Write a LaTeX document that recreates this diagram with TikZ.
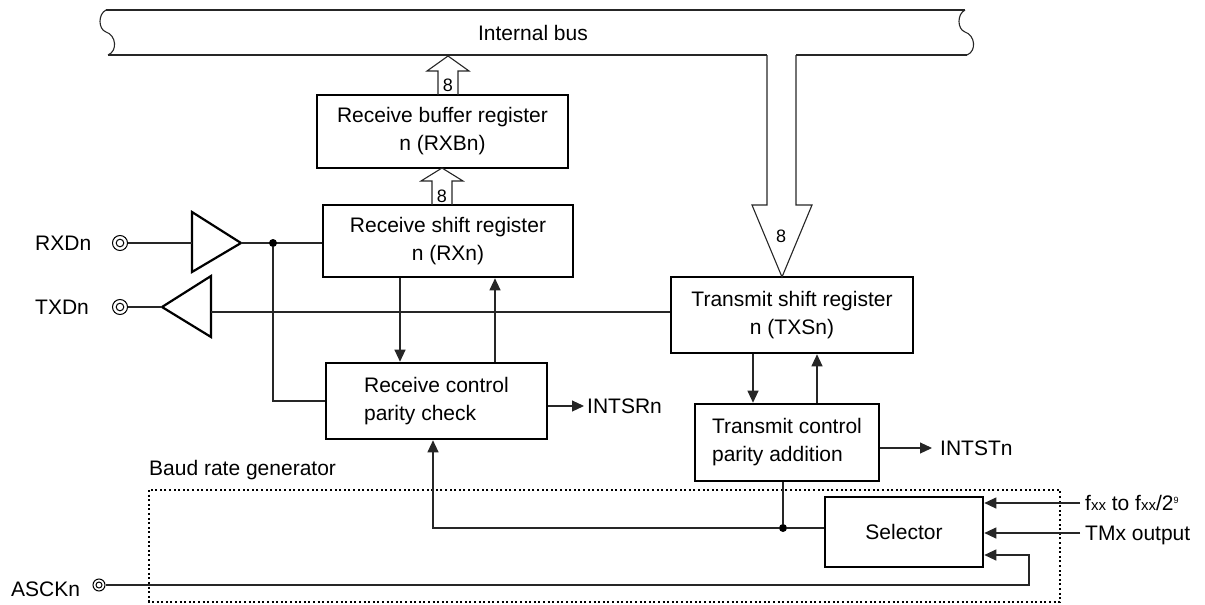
\documentclass[tikz,border=0pt]{standalone}
\usepackage{fontspec}
\setmainfont{Liberation Sans}
\usetikzlibrary{arrows.meta}
\begin{document}
\begin{tikzpicture}[x=1pt,y=-1pt,
  box/.style={draw, line width=2.6pt, inner sep=0pt, align=center, font=\fontsize{21}{28}\selectfont},
  lbl/.style={inner sep=0pt, font=\fontsize{21}{25}\selectfont},
  num/.style={inner sep=0pt, font=\fontsize{18}{20}\selectfont},
  wire/.style={line width=1.1pt, draw=black!85},
  arr/.style={wire, -{Triangle[length=12pt,width=11pt]}},
  hollow/.style={line width=1.1pt, draw=black!85, line join=miter},
  tri/.style={line width=2.2pt, line join=miter},
  term/.style={circle, draw, line width=1pt, minimum size=15pt, inner sep=0pt,
    path picture={\draw[line width=1pt] (path picture bounding box.center) circle (3.8pt);}},
  dot/.style={circle, fill, inner sep=0pt, minimum size=8pt},
  dotbox/.style={line width=1.3pt, dash pattern=on 2pt off 2.6pt}
]
\useasboundingbox (0,0) rectangle (1205,605);

% internal bus
\draw[wire] (106,10) -- (965,10);
\draw[wire] (108,55) -- (767,55);
\draw[wire] (796,55) -- (967,55);
\draw[wire] (106,10) .. controls (98,14) and (98,29) .. (106,32) .. controls (116,35) and (118,51) .. (108,55);
\draw[wire] (965,10) .. controls (957,14) and (957,29) .. (965,32) .. controls (975,35) and (977,51) .. (967,55);
\node[lbl] (bus) at (533,33) {Internal bus};

% boxes
\node[box, minimum width=251pt, minimum height=73pt] (rxb) at (442.5,131.5) {Receive buffer register\\n (RXBn)};
\node[box, minimum width=250pt, minimum height=72pt] (rxs) at (448,241) {Receive shift register\\n (RXn)};
\node[box, minimum width=242pt, minimum height=76pt] (txs) at (792,315) {Transmit shift register\\n (TXSn)};
\node[box, align=left, minimum width=221pt, minimum height=76pt] (rc) at (436.5,401) {Receive control\\parity check};
\node[box, align=left, minimum width=184pt, minimum height=77pt] (tc) at (787,442.5) {Transmit control\\parity addition};
\node[box, minimum width=158pt, minimum height=70pt] (sel) at (904,532) {Selector};

% hollow bus arrows
\draw[hollow] (438,95) -- (438,71) -- (427,71) -- (448,56) -- (469,71) -- (458,71) -- (458,95);
\node[num] (n1) at (448,85) {8};
\draw[hollow] (432,205) -- (432,181) -- (421,181) -- (442,168) -- (463,181) -- (452,181) -- (452,205);
\node[num] (n2) at (442,196) {8};
\draw[hollow] (767,55) -- (767,205) -- (752,205) -- (782,277) -- (812,205) -- (796,205) -- (796,55);
\node[num] (n3) at (781,236) {8};

% buffers
\draw[tri] (192,212) -- (241,243) -- (192,272) -- cycle;
\coordinate (rxin) at (192,243);
\coordinate (rxout) at (241,243);
\draw[tri] (162,307) -- (211,276) -- (211,337) -- cycle;
\coordinate (txout) at (162,307);
\coordinate (txin) at (211,312);

% terminals and labels
\node[term] (rxd) at (120,243) {};
\node[term] (txd) at (120,307) {};
\node[term, minimum size=12pt, path picture={\draw[line width=1pt] (path picture bounding box.center) circle (3pt);}] (asckt) at (99,585) {};
\node[lbl, anchor=west] (rxdl) at (35,243) {RXDn};
\node[lbl, anchor=west] (txdl) at (35,307) {TXDn};
\node[lbl, anchor=west] (asckl) at (11,589) {ASCKn};

% receive path
\draw[wire] (rxd) -- (rxin);
\draw[wire] (rxout) -- (rxout -| rxs.west);
\node[dot] (j1) at (273,243) {};
\draw[wire] (j1) |- (rc.west);
\draw[arr] ([xshift=-48pt]rxs.south) -- ([xshift=-48pt]rxs.south |- rc.north);
\draw[arr] ([xshift=58.5pt]rc.north) -- ([xshift=58.5pt]rc.north |- rxs.south);
\node[lbl, anchor=west] (intsr) at (587,406) {INTSRn};
\draw[arr, shorten >=3pt] (intsr.west -| rc.east) -- (intsr.west);

% transmit path
\draw[wire] (txd) -- (txout);
\draw[wire] (txin) -- (txin -| txs.west);
\draw[arr] ([xshift=-39pt]txs.south) -- ([xshift=-39pt]txs.south |- tc.north);
\draw[arr] ([xshift=30pt]tc.north) -- ([xshift=30pt]tc.north |- txs.south);
\node[lbl, anchor=west] (intst) at (940,448) {INTSTn};
\draw[arr, shorten >=8pt] (intst.west -| tc.east) -- (intst.west);

% baud rate generator
\draw[dotbox] (149,490) rectangle (1060,602);
\node[lbl, anchor=base west] (baud) at (149,475) {Baud rate generator};
\node[dot] (j2) at (783,528) {};
\draw[wire] (j2 |- tc.south) -- (j2);
\draw[wire] (j2) -- (j2 -| sel.west);
\draw[arr] (j2) -| ([xshift=-3.5pt]rc.south);

% selector inputs
\coordinate (in1) at (1080,503);
\coordinate (in2) at (1080,533);
\coordinate (in3) at (1029,555);
\draw[arr] (in1) -- (in1 -| sel.east);
\draw[arr] (in2) -- (in2 -| sel.east);
\node[lbl, anchor=base west] (fxx) at (1085,510.5) {f{\fontsize{15}{15}\selectfont xx} to f{\fontsize{15}{15}\selectfont xx}/2\raisebox{7pt}{\fontsize{9}{9}\selectfont 9}};
\node[lbl, anchor=base west] (tmx) at (1085,540.5) {TMx output};
\draw[arr] (asckt) -- (asckt -| in3) -- (in3) -- (in3 -| sel.east);
\end{tikzpicture}
\end{document}
